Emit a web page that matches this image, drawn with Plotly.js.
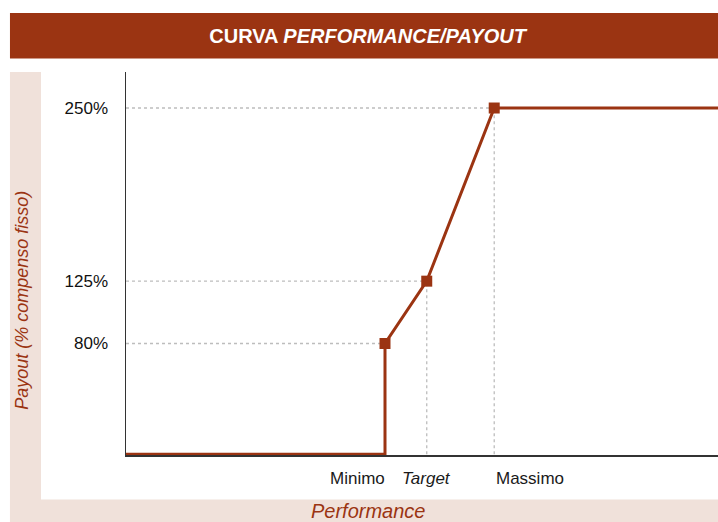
<!DOCTYPE html>
<html>
<head>
<meta charset="utf-8">
<script src="https://cdn.plot.ly/plotly-3.0.1.min.js"></script>
<style>
  html, body { margin: 0; padding: 0; background: #ffffff; }
  #plotly-div { width: 718px; height: 522px; }
</style>
</head>
<body>
<div id="plotly-div"></div>
<script>
// performance / payout curve

var perfLabels = ['Minimo', 'Target', 'Massimo'];
var perfX = [43.75, 50.8, 62.2];        // position on the performance scale
var payout = [80, 125, 250];            // % compenso fisso
var payoutTicks = ['80%', '125%', '250%'];

// full curve: zero below the minimum, capped after the maximum
var curveX = [0, perfX[0]].concat(perfX).concat([100]);
var curveY = [0, 0].concat(payout).concat([payout[2]]);

var rust = '#9b3412';
var pink = '#f0e1da';

var drawChart = function () {

  var dataPlot = [
    {x: curveX, y: curveY, type: 'scatter', mode: 'lines',
     line: {color: rust, width: 3}, cliponaxis: false, hoverinfo: 'skip'},
    {x: perfX, y: payout, type: 'scatter', mode: 'markers',
     marker: {symbol: 'square', size: 11, color: rust}, cliponaxis: false}
  ];

  var shapes = [
    // title band and pink frame
    {type: 'rect', xref: 'paper', yref: 'paper', x0: -0.196, x1: 1, y0: 1.035, y1: 1.154,
     fillcolor: rust, line: {width: 0}, layer: 'below'},
    {type: 'rect', xref: 'paper', yref: 'paper', x0: -0.196, x1: -0.1436, y0: -0.175, y1: 1.0,
     fillcolor: pink, line: {width: 0}, layer: 'below'},
    {type: 'rect', xref: 'paper', yref: 'paper', x0: -0.196, x1: 1, y0: -0.175, y1: -0.1162,
     fillcolor: pink, line: {width: 0}, layer: 'below'}
  ];

  // dotted guides from the axes to each point
  perfX.forEach(function (px, i) {
    shapes.push({type: 'line', x0: 0, x1: px, y0: payout[i], y1: payout[i],
                 line: {color: '#bdbdbd', width: 1.3, dash: 'dot'}, layer: 'below'});
    shapes.push({type: 'line', x0: px, x1: px, y0: 0, y1: payout[i],
                 line: {color: '#bdbdbd', width: 1.3, dash: 'dot'}, layer: 'below'});
  });

  var anchors = ['right', 'center', 'left'];
  var annotations = perfLabels.map(function (lab, i) {
    return {x: perfX[i], y: -0.062, xref: 'x', yref: 'paper',
            text: lab === 'Target' ? '<i>' + lab + '</i>' : lab,
            xanchor: anchors[i], yanchor: 'middle', showarrow: false,
            xshift: i === 0 ? 2 : 0,
            font: {size: 17, color: '#1a1a1a'}};
  });

  annotations.push({x: 0.41, y: -0.145, xref: 'paper', yref: 'paper',
    text: '<i>Performance</i>', showarrow: false, xanchor: 'center', yanchor: 'middle',
    font: {size: 20, color: rust}});
  annotations.push({x: -0.1757, y: 0.405, xref: 'paper', yref: 'paper',
    text: '<i>Payout (% compenso fisso)</i>', textangle: -90, showarrow: false,
    xanchor: 'center', yanchor: 'middle', font: {size: 18, color: rust}});

  var layout = {
    width: 718, height: 522,
    margin: {l: 126, r: 0, t: 72, b: 67},
    paper_bgcolor: '#ffffff', plot_bgcolor: 'rgba(0,0,0,0)',
    font: {family: '"Liberation Sans", Arial, sans-serif', color: '#1a1a1a'},
    showlegend: false,
    title: {text: '<b>CURVA <i>PERFORMANCE/PAYOUT</i></b>', font: {size: 20, color: '#ffffff'},
            x: 0.512, xanchor: 'center', xref: 'container',
            y: 0.931, yanchor: 'middle', yref: 'container'},
    xaxis: {range: [0, 100], showgrid: false, zeroline: false, showticklabels: false,
            showline: true, linecolor: '#333333', linewidth: 1.5, fixedrange: true},
    yaxis: {range: [-0.5, 276], showgrid: false, zeroline: false,
            tickvals: payout, ticktext: payoutTicks, ticks: '', ticklabelstandoff: 13,
            tickfont: {size: 17, color: '#111111'},
            showline: true, linecolor: '#333333', linewidth: 1.5, fixedrange: true},
    shapes: shapes,
    annotations: annotations
  };

  Plotly.newPlot('plotly-div', dataPlot, layout, {displayModeBar: false, staticPlot: true});
};

drawChart();
</script>
</body>
</html>
